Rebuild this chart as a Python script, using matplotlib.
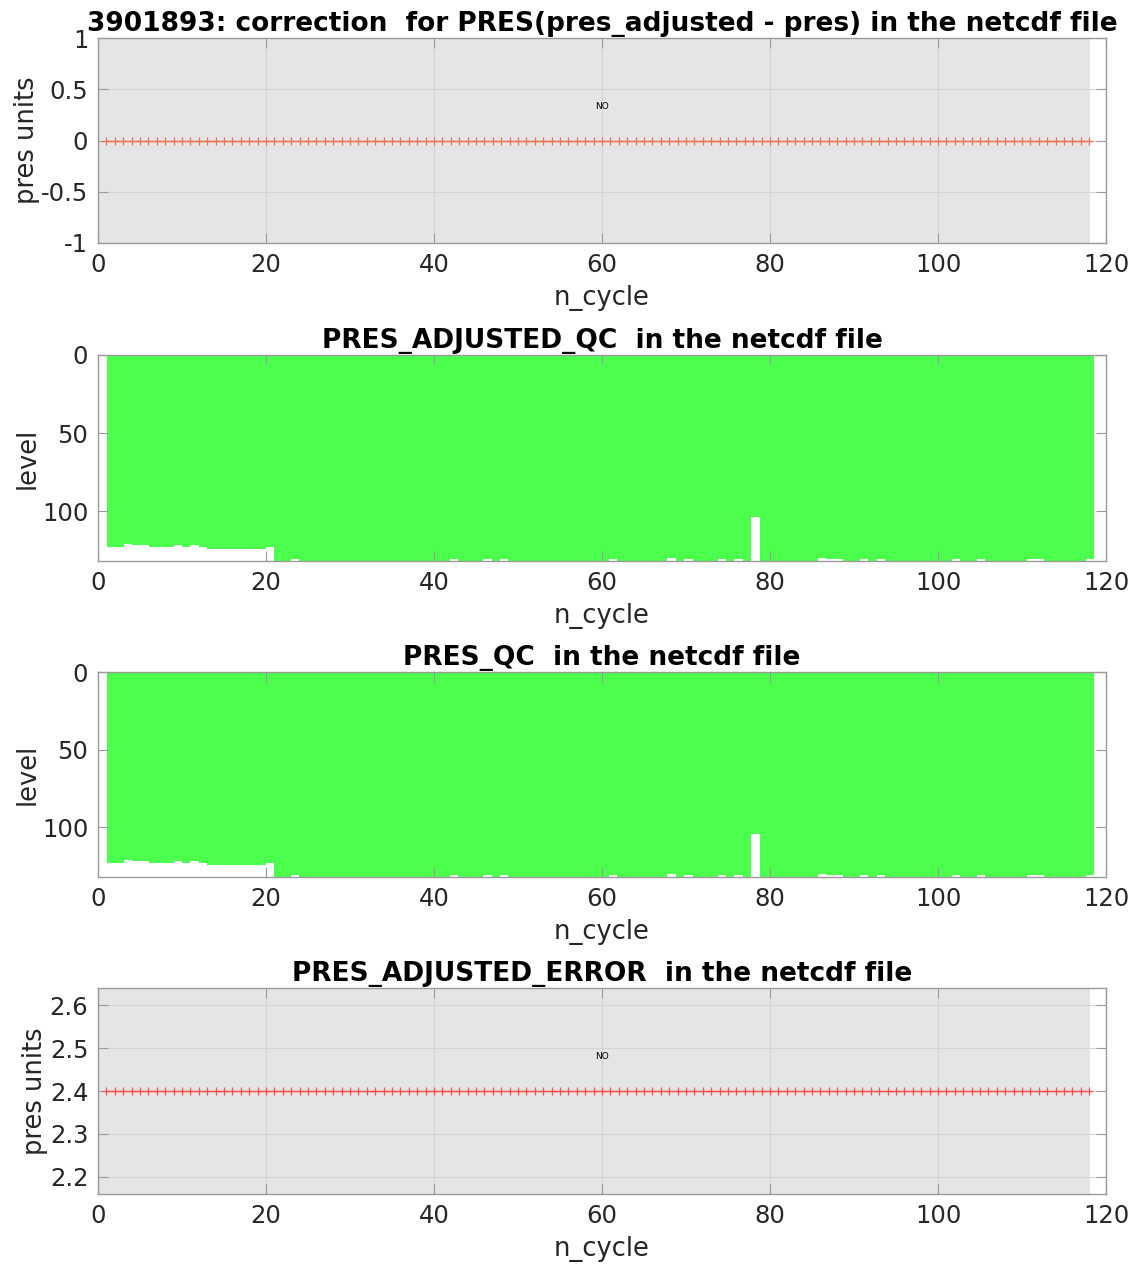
import numpy as np
import matplotlib
matplotlib.use("Agg")
import matplotlib.pyplot as plt
from matplotlib.colors import ListedColormap

# ---------------- data ----------------
cycles = np.arange(1, 119)
pres_correction = np.zeros(len(cycles))          # pres_adjusted - pres
pres_adj_error = np.full(len(cycles), 2.4)       # PRES_ADJUSTED_ERROR

# number of levels per cycle (profile length)
first_levels = [123, 123, 121, 122, 122, 123, 123, 123, 122, 123,
                122, 123, 124, 124, 124, 124, 124, 124, 124, 123]
nlev = np.array(first_levels + [132] * (118 - 20))
short_131 = [23, 42, 46, 48, 61, 70, 74, 76, 87, 88, 91, 93, 102, 105, 111, 112, 118]
short_130 = [68, 86]
for c in short_131:
    nlev[c - 1] = 131
for c in short_130:
    nlev[c - 1] = 130
nlev[78 - 1] = 104
max_level = 132

titles = ["3901893: correction  for PRES(pres_adjusted - pres) in the netcdf file",
          "PRES_ADJUSTED_QC  in the netcdf file",
          "PRES_QC  in the netcdf file",
          "PRES_ADJUSTED_ERROR  in the netcdf file"]

# ---------------- style ----------------
W, H = 1133, 1268
fig = plt.figure(figsize=(W / 100, H / 100), dpi=100)
plt.rcParams['font.family'] = ['DejaVu Sans']
txtc = '#262626'
spc = '#9a9a9a'
green = '#4cff4c'
TICK_FS = 17.5
LAB_FS = 18.5
TITLE_FS = 19

def ax_at(left, top, right, bottom):
    return fig.add_axes([left / W, 1 - bottom / H, (right - left) / W, (bottom - top) / H])

def style(ax):
    for s in ax.spines.values():
        s.set_color(spc)
        s.set_linewidth(1.0)
    ax.tick_params(direction='in', length=7, width=0.8, color=spc,
                   labelsize=TICK_FS, labelcolor=txtc, top=True, right=True, pad=7)
    ax.set_xlim(0, 120)
    ax.set_xticks([0, 20, 40, 60, 80, 100, 120])
    ax.set_xlabel('n_cycle', fontsize=LAB_FS, color=txtc, labelpad=6)

def line_panel(ax, values, color, ylim, yticks, ylabels, title, notext_y):
    style(ax)
    ax.set_axisbelow(True)
    ax.grid(True, color='#d4d4d4', linewidth=0.8)
    ax.axvspan(0, cycles[-1] + 0.1, color='#e5e5e5', zorder=0.1, lw=0)
    ax.plot(cycles, values, '-', color=color, marker='+', markersize=6,
            linewidth=1.0, markeredgewidth=0.9, zorder=3)
    ax.set_ylim(*ylim)
    ax.set_yticks(yticks)
    ax.set_yticklabels(ylabels)
    ax.set_ylabel('pres units', fontsize=LAB_FS, color=txtc, labelpad=1)
    ax.text(60, notext_y, 'NO', fontsize=6.5, ha='center', va='center', color='black')
    ax.set_title(title, fontsize=TITLE_FS, fontweight='bold', color='black', pad=5)

def qc_panel(ax, title):
    style(ax)
    grid = np.full((max_level, len(cycles)), np.nan)
    for j, n in enumerate(nlev):
        grid[:n, j] = 1.0
    xe = np.linspace(1.05, 118.6, len(cycles) + 1)
    ye = np.arange(0, max_level + 1)
    ax.pcolormesh(xe, ye, grid, cmap=ListedColormap([green]), vmin=0, vmax=2, zorder=1)
    ax.set_ylim(max_level, 0)
    ax.set_yticks([0, 50, 100])
    ax.set_ylabel('level', fontsize=LAB_FS, color=txtc, labelpad=1)
    ax.set_title(title, fontsize=TITLE_FS, fontweight='bold', color='black', pad=5)

ax1 = ax_at(98, 38, 1106, 243)
line_panel(ax1, pres_correction, '#ea7250', (-1, 1), [-1, -0.5, 0, 0.5, 1],
           ['-1', '-0.5', '0', '0.5', '1'], titles[0], 0.33)

ax2 = ax_at(98, 355, 1106, 561)
qc_panel(ax2, titles[1])

ax3 = ax_at(98, 672, 1106, 877)
qc_panel(ax3, titles[2])

ax4 = ax_at(98, 988, 1106, 1194)
line_panel(ax4, pres_adj_error, '#ff5050', (2.16, 2.64), [2.2, 2.3, 2.4, 2.5, 2.6],
           ['2.2', '2.3', '2.4', '2.5', '2.6'], titles[3], 2.48)

fig.savefig('out.png', dpi=100)
